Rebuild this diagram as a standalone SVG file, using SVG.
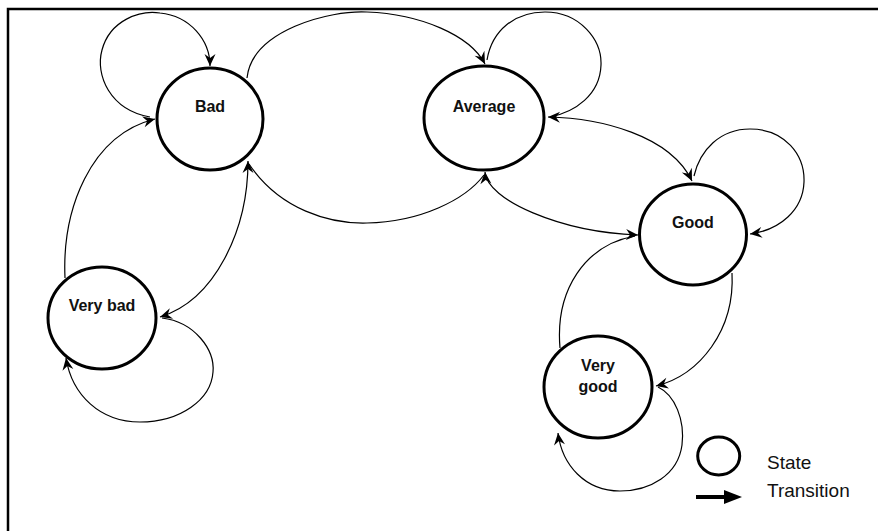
<svg xmlns="http://www.w3.org/2000/svg" width="878" height="531" viewBox="0 0 878 531">
<style>
.node{fill:#fff;stroke:#000;stroke-width:3}
.lbl{font-family:"Liberation Sans",Arial,sans-serif;font-weight:bold;font-size:16px;text-anchor:middle;fill:#111}
.edge{fill:none;stroke:#000;stroke-width:1.2}
.leg{font-family:"Liberation Sans",Arial,sans-serif;font-size:19px;fill:#111}
.frame{stroke:#000;stroke-width:2.5;fill:none}
</style>
<defs>
<marker id="ah" viewBox="-13 -7 14 14" refX="0" refY="0" markerWidth="14" markerHeight="14" markerUnits="userSpaceOnUse" orient="auto-start-reverse">
<path d="M0,0 L-12,-5.5 L-8,0 L-12,5.5 Z" fill="#000"/>
</marker>
</defs>
<rect width="878" height="531" fill="#fff"/>
<path class="frame" d="M8,531 L8,9 L878,9"/>
<g id="connectors">
<path class="edge" d="M150,117 C110,110 95,75 102,50 C110,20 140,10 160,13 C190,16 210,40 210,66" marker-end="url(#ah)"/>
<path class="edge" d="M247,78 C252,30 330,10 367,12 C420,14 470,35 485,64" marker-end="url(#ah)"/>
<path class="edge" d="M487,60 C492,30 515,12 545,12 C580,12 602,40 601,65 C600,95 575,112 550,117"/>
<path class="edge" d="M548,117 C600,118 670,135 692,181" marker-start="url(#ah)" marker-end="url(#ah)"/>
<path class="edge" d="M694,176 C700,150 720,129 750,129 C785,129 805,155 804,182 C803,210 780,230 750,234" marker-end="url(#ah)"/>
<path class="edge" d="M485,172 C487,200 560,232 638,235" marker-start="url(#ah)" marker-end="url(#ah)"/>
<path class="edge" d="M249,164 C280,210 330,224 367,223 C420,222 465,200 484,175"/>
<path class="edge" d="M248,161 C248,230 215,300 160,317" marker-start="url(#ah)" marker-end="url(#ah)"/>
<path class="edge" d="M65,278 C62,210 90,135 155,119" marker-end="url(#ah)"/>
<path class="edge" d="M162,318 C195,322 215,350 213,372 C211,400 180,422 140,422 C100,422 72,395 66,358" marker-end="url(#ah)"/>
<path class="edge" d="M732,273 C735,330 700,375 656,386" marker-end="url(#ah)"/>
<path class="edge" d="M560,348 C555,290 585,245 635,236"/>
<path class="edge" d="M658,387 C675,395 685,420 682,445 C678,475 650,491 620,491 C585,491 562,465 558,433" marker-end="url(#ah)"/>
</g>
<g id="bad"><ellipse class="node" cx="210" cy="119" rx="53" ry="51"/><text class="lbl" x="210" y="112">Bad</text></g>
<g id="average"><ellipse class="node" cx="484" cy="118" rx="60" ry="52"/><text class="lbl" x="484" y="112">Average</text></g>
<g id="good"><ellipse class="node" cx="693" cy="234.5" rx="53.5" ry="50.5"/><text class="lbl" x="693" y="228">Good</text></g>
<g id="verybad"><ellipse class="node" cx="102" cy="318" rx="54" ry="51"/><text class="lbl" x="102" y="311">Very bad</text></g>
<g id="verygood"><ellipse class="node" cx="598" cy="387" rx="54" ry="51"/><text class="lbl" x="598" y="371">Very</text><text class="lbl" x="598" y="392">good</text></g>
<g id="legend">
<ellipse cx="718.7" cy="456" rx="21" ry="19" fill="none" stroke="#000" stroke-width="3"/>
<line x1="696" y1="497" x2="727" y2="497" stroke="#000" stroke-width="4"/>
<path d="M724,490 L742,497 L724,504 Z" fill="#000"/>
<text class="leg" x="767" y="469">State</text>
<text class="leg" x="767" y="497">Transition</text>
</g>
</svg>
